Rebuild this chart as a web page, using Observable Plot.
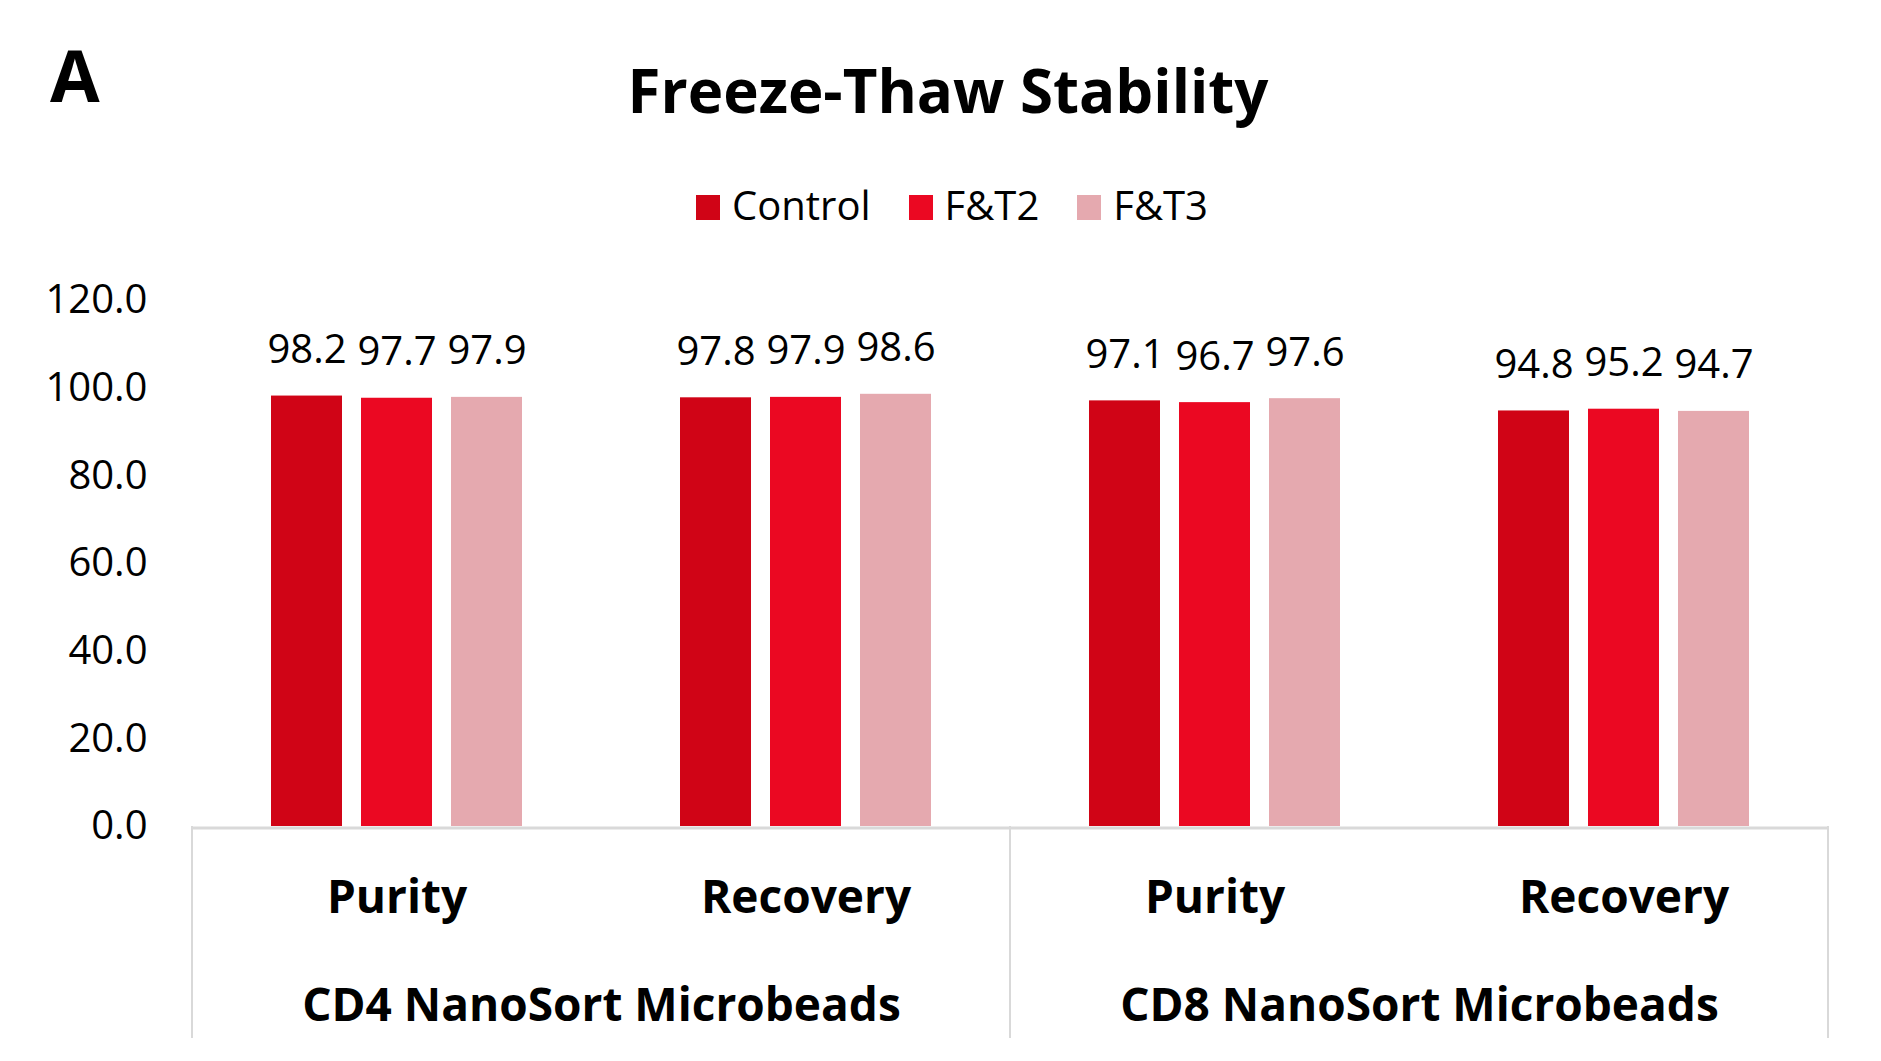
<!DOCTYPE html>
<html>
<head>
<meta charset="utf-8">
<script src="https://cdn.jsdelivr.net/npm/d3@7"></script>
<script src="https://cdn.jsdelivr.net/npm/@observablehq/plot@0.6"></script>
<style>
  html, body { margin: 0; padding: 0; background: #fff; }
  body { font-family: "Open Sans", sans-serif; color: #000; width: 1881px; height: 1061px; position: relative; overflow: hidden; }
  #header { position: relative; height: 240px; }
  #panel { position: absolute; left: 50px; top: 38px; font-size: 72px; font-weight: 700; line-height: 1; }
  #title { position: absolute; left: 948px; top: 60px; transform: translateX(-50%); font-size: 60px; font-weight: 700; line-height: 1; white-space: nowrap; }
  #legend { position: absolute; left: 696px; top: 185px; display: flex; gap: 38px; font-size: 40px; line-height: 1; white-space: nowrap; }
  #legend .item { display: flex; align-items: baseline; }
  #legend .sw { display: inline-block; width: 24px; height: 25px; margin-right: 12px; }
  #chart svg { display: block; font-family: "Open Sans", sans-serif; color: #000; }
  #chart g[aria-label^="y-axis"] text { font-size: 40px; fill: #000; }
  #chart g[aria-label^="fx-axis"] text { font-size: 46px; font-weight: 700; fill: #000; }
</style>
</head>
<body>
<div id="header">
  <div id="panel">A</div>
  <div id="title">Freeze-Thaw Stability</div>
  <div id="legend"></div>
</div>
<div id="chart"></div>
<script>
// ---- data ----
const series = ["Control", "F&T2", "F&T3"];
const seriesColors = ["#D00416", "#EB0822", "#E5A9AF"];
const groups = ["CD4 NanoSort Microbeads", "CD8 NanoSort Microbeads"];
const metrics = ["Purity", "Recovery"];
const controlValues = [98.2, 97.8, 97.1, 94.8];
const ft2Values = [97.7, 97.9, 96.7, 95.2];
const ft3Values = [97.9, 98.6, 97.6, 94.7];
const yTicks = [0, 20, 40, 60, 80, 100, 120];

// ---- table ----
const keys = [];
groups.forEach(g => metrics.forEach(m => keys.push(g + "|" + m)));
const seriesValues = [controlValues, ft2Values, ft3Values];
const table = [];
keys.forEach((k, i) => series.forEach((s, j) => table.push({key: k, series: s, value: seriesValues[j][i]})));
const groupLabels = groups.map(g => ({key: g + "|" + metrics[1], label: g}));

// ---- legend ----
const legend = document.getElementById("legend");
series.forEach((s, i) => {
  const item = document.createElement("div");
  item.className = "item";
  const sw = document.createElement("span");
  sw.className = "sw";
  sw.style.background = seriesColors[i];
  const t = document.createElement("span");
  t.textContent = s;
  item.appendChild(sw); item.appendChild(t);
  legend.appendChild(item);
});

// ---- plot ----
const plot = Plot.plot({
  width: 1881,
  height: 821,
  marginTop: 60,
  marginBottom: 235,
  marginLeft: 190,
  marginRight: 52,
  style: {fontFamily: "'Open Sans', sans-serif", color: "#000", background: "#fff"},
  fx: {domain: keys, padding: 0, tickFormat: k => k.split("|")[1], tickSize: 0, tickPadding: 54, label: null},
  x: {domain: series, paddingInner: 0.21, paddingOuter: 0.855, axis: null},
  y: {domain: [0, 120], ticks: yTicks, tickFormat: d => d.toFixed(1), tickSize: 0, tickPadding: 45, label: null},
  color: {domain: series, range: seriesColors},
  marks: [
    Plot.barY(table, {fx: "key", x: "series", y: "value", fill: "series"}),
    Plot.ruleY([0], {stroke: "#d9d9d9", strokeWidth: 3, dy: 1.5}),
    Plot.text(table, {fx: "key", x: "series", y: "value", text: d => d.value.toFixed(1), dy: -33, lineAnchor: "bottom", fontSize: 40, fill: "#000"}),
    Plot.text(groupLabels, {fx: "key", text: "label", frameAnchor: "bottom-left", textAnchor: "middle", lineAnchor: "bottom", dy: 194, fontSize: 46, fontWeight: 700, fill: "#000"})
  ]
});
document.getElementById("chart").appendChild(plot);

// ---- category frame lines (from the fx and y scales) ----
const fx = plot.scale("fx");
const ys = plot.scale("y");
const y0 = ys.apply(0);
const edges = [fx.apply(keys[0]), fx.apply(keys[2]), fx.apply(keys[3]) + fx.bandwidth];
const svg = d3.select(plot.tagName.toLowerCase() === "svg" ? plot : plot.querySelector("svg"));
svg.append("g").attr("aria-label", "category-frame")
  .selectAll("line").data(edges).join("line")
  .attr("x1", d => d).attr("x2", d => d)
  .attr("y1", y0).attr("y2", y0 + 212)
  .attr("stroke", "#d9d9d9").attr("stroke-width", 2);
</script>
</body>
</html>
